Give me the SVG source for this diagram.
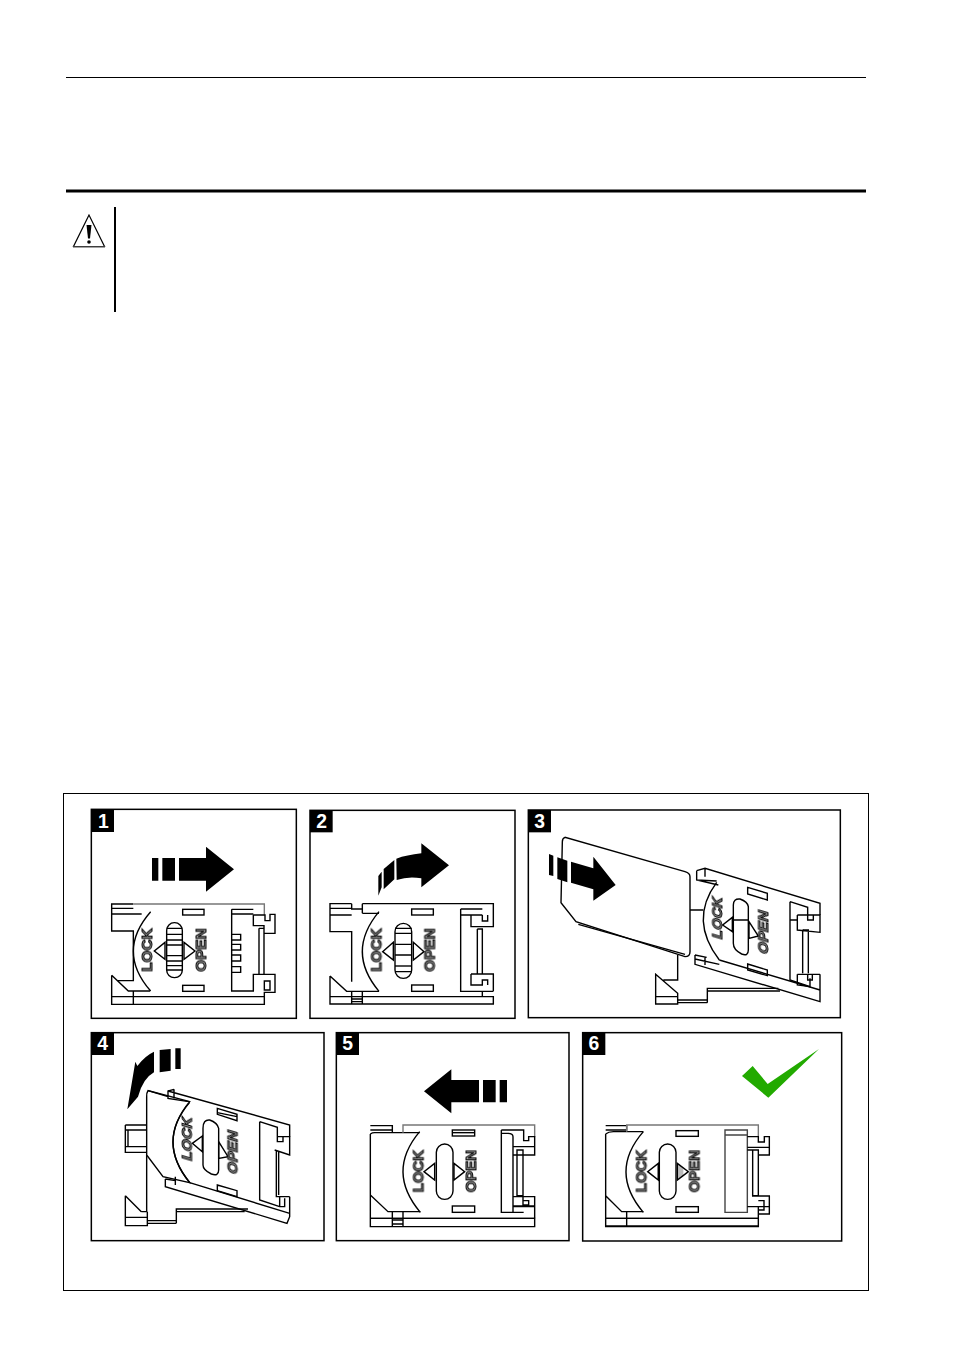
<svg xmlns="http://www.w3.org/2000/svg" width="955" height="1350" viewBox="0 0 955 1350">
<defs><filter id="gray" x="-20%" y="-20%" width="140%" height="140%"><feOffset dx="0" dy="0"/></filter></defs>
<style>
.l{fill:none;stroke:#000;stroke-width:4.2;stroke-linejoin:miter}
.g{fill:none;stroke:#777;stroke-width:4.2}
.w{fill:#fff;stroke:#000;stroke-width:4.2}
.b{fill:#000;stroke:none}
.f{fill:#fff;stroke:#000;stroke-width:4.5}
.n{font:bold 58px "Liberation Sans",Arial,sans-serif;fill:#fff;text-anchor:middle}
.t{font:bold 43px "Liberation Sans",Arial,sans-serif;fill:#999;stroke:#000;stroke-width:3;filter:url(#gray)}
</style>
<rect width="955" height="1350" fill="#fff"/>
<g id="header">
<line x1="66" y1="77.5" x2="866" y2="77.5" stroke="#000" stroke-width="1"/>
<line x1="66" y1="191" x2="866" y2="191" stroke="#000" stroke-width="3"/>
<line x1="115" y1="207" x2="115" y2="312" stroke="#000" stroke-width="2"/>
</g>
<g id="warning">
<path d="M89 215L73.5 246.5H104.5Z" fill="#fff" stroke="#000" stroke-width="1.2"/>
<path d="M73 247H105" stroke="#666" stroke-width="1.2"/>
<path d="M86.5 225H91.5L90 238.5H88Z" fill="#000"/>
<circle cx="89" cy="242" r="1.8" fill="#000"/>
</g>
<rect id="frame" x="63.5" y="793.5" width="805" height="497" fill="none" stroke="#000" stroke-width="1"/>

<g id="panel1" transform="translate(60 790) scale(.33333)">
<rect class="f" x="94" y="58" width="615" height="627"/>
<rect class="b" x="94" y="58" width="68" height="68"/>
<text class="n" x="130" y="113">1</text>
<path class="b" d="M276 204H295V272H276ZM307 204H345V272H307ZM357 204H438V170L522 238L438 305V272H357Z"/>
<path class="l" d="M220 342H155V423H220V572H172M155 556V643H613V620H155M155 355H220M155 372H245M220 603V643M155 556L205 603H270"/>
<path class="g" d="M220 342H613V375"/>
<path class="l" d="M272 365Q168 484 272 603" stroke-width="5"/>
<rect class="l" x="368" y="358" width="64" height="17"/>
<rect class="l" x="368" y="586" width="64" height="18"/>
<rect class="l" x="320" y="398" width="47" height="165" rx="23"/>
<path class="l" d="M320 415H367M320 433H367M320 450H367M320 497H367M320 513H367M320 540H367" stroke-width="3"/>
<path class="l" d="M320 465H367M320 527H367" stroke-width="6"/>
<path class="l" d="M315 457L283 483L315 508ZM372 457L405 483L372 508Z"/>
<text class="t" transform="translate(276 545) rotate(-90)" textLength="130" lengthAdjust="spacingAndGlyphs">LOCK</text>
<text class="t" transform="translate(438 545) rotate(-90)" textLength="130" lengthAdjust="spacingAndGlyphs">OPEN</text>
<path class="l" d="M515 358H580M515 372H580M515 358V603H580V553H645V607H613V620M580 375H615V392H630V373H645V430H612V407H580V375M597 415H612V553M597 415V553M515 433H542V450H515M515 463H542V480H515M515 495H542V513H515M515 530H542V547H515M613 573H630V600H613Z"/>
</g>

<g id="panel2" transform="translate(305 800) scale(.33333)">
<rect class="f" x="15" y="31" width="615" height="624"/>
<rect class="b" x="15" y="31" width="68" height="66"/>
<text class="n" x="50" y="84">2</text>
<path class="b" d="M349 130L432 196L349 262V235Q310 228 275 240L274 176Q305 165 349 160ZM236 207L268 180V238L236 268ZM220 228L230 215V262L220 287Z"/>
<path class="l" d="M140 311H75V395H140V545M75 325H140M75 345H140M140 311V327H172M75 528V612H565V590H75M75 528L125 574H222M140 574V612M140 597H172M140 605H172M172 574V612M172 340H222M172 311V340"/>
<path class="l" d="M172 311H565V345" stroke="#555" stroke-width="5"/>
<path class="l" d="M222 335Q122 455 222 574" stroke-width="5"/>
<rect class="l" x="320" y="327" width="65" height="18"/>
<rect class="l" x="320" y="555" width="65" height="19"/>
<rect class="l" x="270" y="370" width="50" height="165" rx="25"/>
<path class="l" d="M270 385H320M270 400H320M270 433H320M270 465H320M270 515H320" stroke-width="3"/>
<path class="l" d="M270 498H320" stroke-width="6"/>
<path class="l" d="M265 427L233 455L265 480ZM325 427L357 455L325 480Z"/>
<text class="t" transform="translate(229 515) rotate(-90)" textLength="130" lengthAdjust="spacingAndGlyphs">LOCK</text>
<text class="t" transform="translate(389 515) rotate(-90)" textLength="130" lengthAdjust="spacingAndGlyphs">OPEN</text>
<path class="l" d="M467 327H532M467 345H532M467 327V574H532V590M498 345V380H565V345M532 345V363H548V345M517 387H532V522M517 387V522M498 522H565V574M498 522V555H532V540H548V555M532 574H565"/>
</g>

<g id="panel3" transform="translate(525 805) scale(.33333)">
<rect class="f" x="10" y="15" width="936" height="623"/>
<rect class="b" x="10" y="15" width="68" height="67"/>
<text class="n" x="44" y="68">3</text>
<path class="l" d="M495 315H535M458 450V525H415M392 508L458 565V597H392ZM392 575H458M458 585H547M458 593H547M547 593V550H760M547 558H765"/>
<path class="w" d="M120 97Q112 100 112 110L108 293L153 350L480 455Q495 455 495 440V215Q495 205 480 200Z"/>
<path class="l" d="M160 358L480 448" stroke-width="2.5"/>
<path class="b" d="M72 147L85 152V213L72 210ZM97 157L127 167V232L97 222ZM138 170L205 190V155L272 240L205 287V253L138 233Z"/>
<path class="l" d="M515 197L540 190L885 295V330M540 190V215M515 197V225L580 240M515 225L575 228M510 450V478L885 590V508M510 450L545 457M583 465L885 555M510 462L583 478M540 455V480"/>
<path class="l" d="M575 232Q491 345 583 465" stroke-width="4.5"/>
<path class="l" d="M668 247L727 265V285L668 267ZM668 477L727 495V512L668 495Z"/>
<path class="l" d="M625 300Q625 280 645 282Q668 290 670 305V435Q670 455 650 447Q625 435 625 415ZM625 345H672"/>
<path class="l" d="M622 337L593 360L622 380ZM672 350L700 393L672 400Z"/>
<text class="t" transform="matrix(0 -1 1 .3 591 405)" textLength="125" lengthAdjust="spacingAndGlyphs">LOCK</text>
<text class="t" transform="matrix(0 -1 1 .3 729 450)" textLength="130" lengthAdjust="spacingAndGlyphs">OPEN</text>
<path class="l" d="M795 345V525L855 545V520M795 290V345H817M795 290L848 307V330M817 330H885V382L817 375V330M848 330V345H865V330M833 375H850V505M833 375V505M817 508H885M817 508V540L855 545M848 508V525H862V508"/>
</g>

<g id="panel4" transform="translate(88 1030) scale(.33333)">
<rect class="f" x="10" y="8" width="698" height="624"/>
<rect class="b" x="10" y="8" width="68" height="67"/>
<text class="n" x="44" y="60">4</text>
<path class="b" d="M118 238L142 95L148 108Q170 78 198 65V127Q165 145 150 200ZM215 60L248 57V122L215 127ZM262 55H278V117H262Z"/>
<path class="l" d="M112 285H176M112 300H176M112 285V367H176M112 350H176M120 300V350M176 375V545H160M112 497L160 545M112 497V587H178V545M112 562H178M178 572H265M178 580H265M265 580V537H480M265 545H470"/>
<path class="w" d="M180 182Q175 190 176 200V375L225 440L305 458Q205 335 305 215Z"/>
<path class="l" d="M180 182L240 200M240 183L605 285V320M258 178L240 183V205L302 215M258 178V205M232 447V470L597 580L605 560V500M232 447L262 452M305 458L605 550M262 440V465"/>
<path class="l" d="M305 217Q205 335 305 457" stroke-width="4.5"/>
<path class="l" d="M388 235L447 253V272L388 253ZM388 248L447 260ZM388 465L447 482V500L388 482Z"/>
<path class="l" d="M345 295Q345 268 365 270Q388 278 392 295V420Q392 440 370 432Q345 420 345 405Z"/>
<path class="l" d="M343 318L313 340L343 365ZM392 335L420 380L392 385Z"/>
<text class="t" transform="matrix(0 -1 1 .3 311 395)" textLength="130" lengthAdjust="spacingAndGlyphs">LOCK</text>
<text class="t" transform="matrix(0 -1 1 .3 448 435)" textLength="130" lengthAdjust="spacingAndGlyphs">OPEN</text>
<path class="l" d="M515 275L568 292V320M515 275V510L575 530M568 320H605V375L560 360M568 320V335H585V320M565 360V500H605M572 365V495M575 500V530H590V505"/>
</g>

<g id="panel5" transform="translate(333 1030) scale(.33333)">
<rect class="f" x="10" y="8" width="698" height="624"/>
<rect class="b" x="10" y="8" width="68" height="67"/>
<text class="n" x="44" y="60">5</text>
<path class="b" d="M273 184L355 118V150H438V217H355V250ZM450 150H488V217H450ZM500 150H522V217H500Z"/>
<path class="l" d="M112 287H178V308M112 300H178M112 312V590H605V565H112M178 545V590M210 545V590M178 570H210M178 582H210M112 495L165 545H262M125 308H260M112 312Q118 308 125 308"/>
<path class="g" d="M210 308V285H605V320"/>
<path class="l" d="M260 305Q159 425 262 547" stroke-width="4.5"/>
<path class="l" d="M112 565H605" stroke-width="5"/>
<rect class="l" x="358" y="300" width="67" height="18"/>
<path class="l" d="M358 308H425"/>
<rect class="l" x="358" y="528" width="67" height="19"/>
<rect class="l" x="310" y="342" width="50" height="166" rx="25"/>
<path class="l" d="M305 400L273 425L305 450ZM363 400L395 425L363 450Z"/>
<text class="t" transform="translate(271 487) rotate(-90)" textLength="127" lengthAdjust="spacingAndGlyphs">LOCK</text>
<text class="t" transform="translate(429 487) rotate(-90)" textLength="127" lengthAdjust="spacingAndGlyphs">OPEN</text>
<path class="l" d="M505 300H572V332H587V320H605V350H540M505 300V547H540V320Q540 310 525 310H505M540 350H605V375H540M552 360H570V497H552ZM540 500H605V530H540M570 500V525H587V512H570M540 528H605V565M540 547H572"/>
</g>

<g id="panel6" transform="translate(580 1030) scale(.33333)">
<rect class="f" x="8" y="8" width="777" height="625"/>
<rect class="b" x="8" y="8" width="68" height="67"/>
<text class="n" x="42" y="60">6</text>
<path d="M486 138L518 108L563 162L717 57L565 203Z" fill="#22aa00"/>
<path class="l" d="M77 287H140V300H77M77 312V590H535V565H77M140 545V590M77 497L125 545H190M77 312Q85 305 100 305H190"/>
<path class="g" d="M140 305V285H535V320"/>
<path class="l" d="M190 305Q86 425 190 547" stroke-width="4.5"/>
<path class="l" d="M77 565H535M77 588H535" stroke-width="5"/>
<rect class="l" x="288" y="302" width="67" height="17" stroke-width="5"/>
<rect class="l" x="288" y="530" width="67" height="17" stroke-width="5"/>
<rect class="l" x="238" y="342" width="50" height="166" rx="25"/>
<path d="M235 400V450L232 450V400ZM292 400L310 413V438L292 450Z" fill="#bbb"/>
<path class="l" d="M235 400L203 425L235 450ZM292 400L325 425L292 450Z"/>
<text class="t" transform="translate(199 487) rotate(-90)" textLength="127" lengthAdjust="spacingAndGlyphs">LOCK</text>
<text class="t" transform="translate(358 487) rotate(-90)" textLength="127" lengthAdjust="spacingAndGlyphs">OPEN</text>
<path d="M435 300H502V547H435ZM435 315H500" fill="none" stroke="#444" stroke-width="4.2"/>
<path class="l" d="M502 320H535V336H553V320H568V375H535M502 352H568M518 360H535V497H518ZM502 360H518V498H568V552H535M535 512H552V540H535M502 530H568M535 530V565"/>
</g>
</svg>
